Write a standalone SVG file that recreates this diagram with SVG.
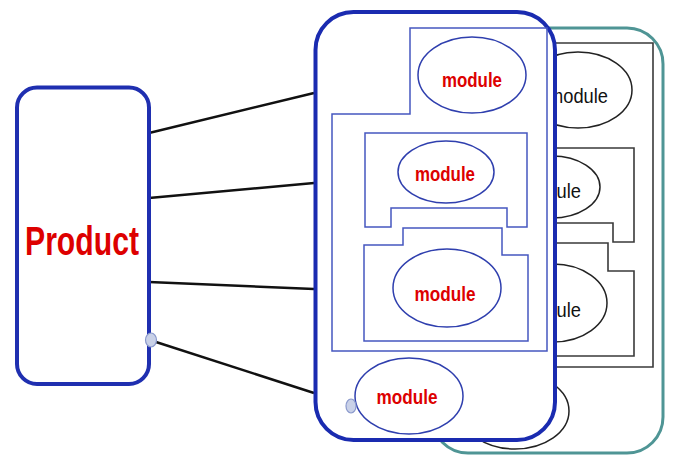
<svg xmlns="http://www.w3.org/2000/svg" width="673" height="457" viewBox="0 0 673 457">
<style>
.conn{stroke:#111;stroke-width:2.4;fill:none}
.grey{fill:none;stroke:#3a3a3a;stroke-width:1.6}
.bshape{fill:none;stroke:#4657c0;stroke-width:1.5}
.bell{fill:#fff;stroke:#2f3fae;stroke-width:1.5}
.kell{fill:#fff;stroke:#222;stroke-width:1.5}
.rt{font-family:"Liberation Sans",Arial,sans-serif;font-weight:bold;fill:#dd0000;text-anchor:middle}
.kt{font-family:"Liberation Sans",Arial,sans-serif;fill:#111;text-anchor:middle;font-size:21px}
.port{fill:#c9d1e8;stroke:#8a99cc;stroke-width:1.2}
</style>
<rect width="673" height="457" fill="#fff"/>
<g id="back-container">
  <rect x="432" y="28" width="231" height="425" rx="36" fill="#fff" stroke="#4f9595" stroke-width="3"/>
  <path class="grey" d="M516 43 H653 V367 H438 V129 H516 Z"/>
  <path class="grey" d="M471 148 H634 V242 H613 V223 H497 V242 H471 Z"/>
  <path class="grey" d="M509 243 H608 V271 H634 V356 H470 V260 H509 Z"/>
  <ellipse class="kell" cx="578" cy="90" rx="54" ry="38"/>
  <text class="kt" x="578" y="103" textLength="60" lengthAdjust="spacingAndGlyphs">module</text>
  <ellipse class="kell" cx="552" cy="187" rx="48" ry="31"/>
  <text class="kt" x="551" y="198" textLength="60" lengthAdjust="spacingAndGlyphs">module</text>
  <ellipse class="kell" cx="553" cy="303" rx="54" ry="39"/>
  <text class="kt" x="551" y="317" textLength="60" lengthAdjust="spacingAndGlyphs">module</text>
  <ellipse class="kell" cx="515" cy="411" rx="54" ry="38"/>
</g>
<g id="connectors">
  <line class="conn" x1="149" y1="133" x2="314" y2="93"/>
  <line class="conn" x1="149" y1="198" x2="314" y2="183"/>
  <line class="conn" x1="149" y1="282" x2="314" y2="289"/>
  <line class="conn" x1="156" y1="342" x2="314" y2="393"/>
</g>
<g id="product">
  <rect x="17" y="87.5" width="132" height="296.5" rx="20" fill="#fff" stroke="#1f2fb0" stroke-width="4"/>
  <text class="rt" x="82" y="255" font-size="40" textLength="114" lengthAdjust="spacingAndGlyphs">Product</text>
  <ellipse class="port" cx="151" cy="340" rx="5.5" ry="7"/>
</g>
<g id="front-container">
  <rect x="315.5" y="12" width="239.5" height="428" rx="38" fill="#fff" stroke="#1a2bb0" stroke-width="4"/>
  <path class="bshape" d="M410 28 H547 V351 H332 V114 H410 Z"/>
</g>
<g id="module-1">
  <ellipse class="bell" cx="472" cy="75" rx="54" ry="38"/>
  <text class="rt" x="472" y="87" font-size="21" textLength="60" lengthAdjust="spacingAndGlyphs">module</text>
</g>
<g id="module-2">
  <path class="bshape" d="M365 133 H527 V227 H507 V208 H391 V227 H365 Z"/>
  <ellipse class="bell" cx="446" cy="172" rx="48" ry="31"/>
  <text class="rt" x="445" y="181" font-size="21" textLength="60" lengthAdjust="spacingAndGlyphs">module</text>
</g>
<g id="module-3">
  <path class="bshape" d="M403 228 H502 V255 H528 V341 H364 V245 H403 Z"/>
  <ellipse class="bell" cx="447" cy="288" rx="54" ry="39"/>
  <text class="rt" x="445" y="301" font-size="21" textLength="61" lengthAdjust="spacingAndGlyphs">module</text>
</g>
<g id="module-4">
  <ellipse class="bell" cx="409" cy="396" rx="54" ry="38"/>
  <text class="rt" x="407" y="404" font-size="21" textLength="61" lengthAdjust="spacingAndGlyphs">module</text>
  <ellipse class="port" cx="351" cy="406" rx="5" ry="7"/>
</g>
</svg>
